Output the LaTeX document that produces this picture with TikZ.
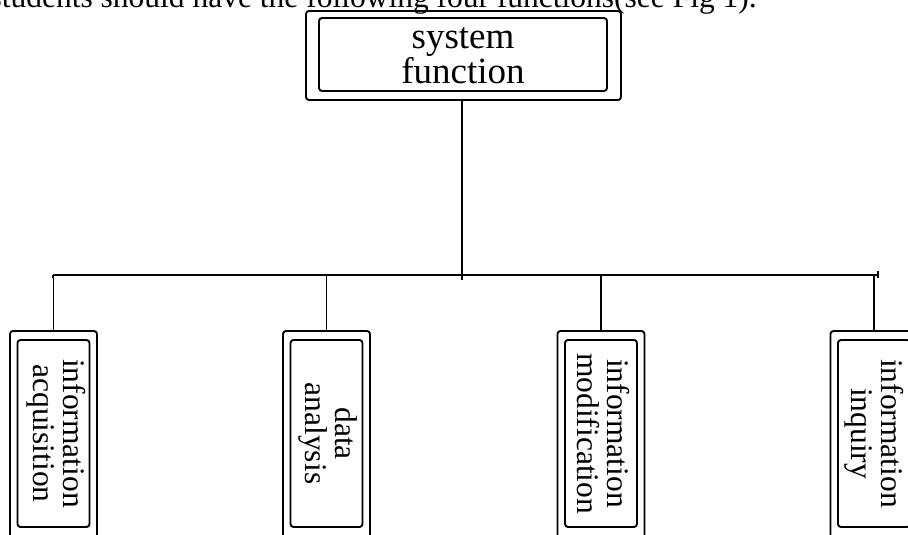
\documentclass[tikz,border=0pt]{standalone}
\usepackage{fontspec}
\setmainfont{Liberation Serif}
\begin{document}
\begin{tikzpicture}[x=1pt,y=-1pt,
  boxline/.style={draw=black, line width=1.9pt, rounded corners=3pt, inner sep=0pt, outer sep=0pt},
  conn/.style={draw=black, line width=1.9pt},
  toptext/.style={align=center, font=\fontsize{37}{35}\selectfont, inner sep=0pt},
  lowtext/.style={rotate=-90, align=center, font=\fontsize{31.5}{30}\selectfont, inner sep=0pt},
  outerlow/.style={boxline, minimum width=87pt, minimum height=229pt},
  innerlow/.style={boxline, minimum width=72pt, minimum height=187pt},
]
\useasboundingbox (0,0) rectangle (908,535);
\clip (0,0) rectangle (908,535);
\fill[white] (0,0) rectangle (908,535);

% header line (cropped)
\node[anchor=base east, font=\fontsize{31.5}{33}\selectfont, inner sep=0pt] (head) at (757,7.5)
  {students should have the following four functions(see Fig 1).};

% top box
\node[boxline, minimum width=315pt, minimum height=89pt] (topo) at (463.5,55.5) {};
\node[boxline, minimum width=288pt, minimum height=73pt] (topi) at (463,54.5) {};
\node[toptext] (toptxt) at (463,56) {system\\function};

% bottom boxes
\foreach \n/\x in {a/53.5, b/326.5, c/601, d/874}{
  \node[outerlow] (\n o) at (\x,445.5) {};
  \node[innerlow] (\n i) at (\x,433.5) {};
}
\node[lowtext] (ta) at ([xshift=2.5pt]ai.center) {information\\acquisition};
\node[lowtext] (tb) at ([xshift=2pt]bi.center) {data\\analysis};
\node[lowtext] (tc) at ([xshift=2pt]ci.center) {information\\modification};
\node[lowtext] (td) at ([xshift=0pt]di.center) {information\\inquiry};

% connectors
\coordinate (busL) at (53,275);
\coordinate (busR) at (878,275);
\coordinate (hub) at (462,280);
\draw[conn] (topo.south -| hub) -- (hub);
\draw[conn] (busL) -- (busR);
\draw[conn] ([yshift=-3pt]busL) -- (busL);
\draw[conn] ([yshift=-3pt]busR) -- ([yshift=4pt]busR);
\draw[conn] (ao.north |- busL) -- (ao.north);
\draw[conn] (bo.north |- busL) -- (bo.north);
\draw[conn] (co.north |- busL) -- (co.north);
\draw[conn] (do.north |- busL) -- (do.north);
\end{tikzpicture}
\end{document}
